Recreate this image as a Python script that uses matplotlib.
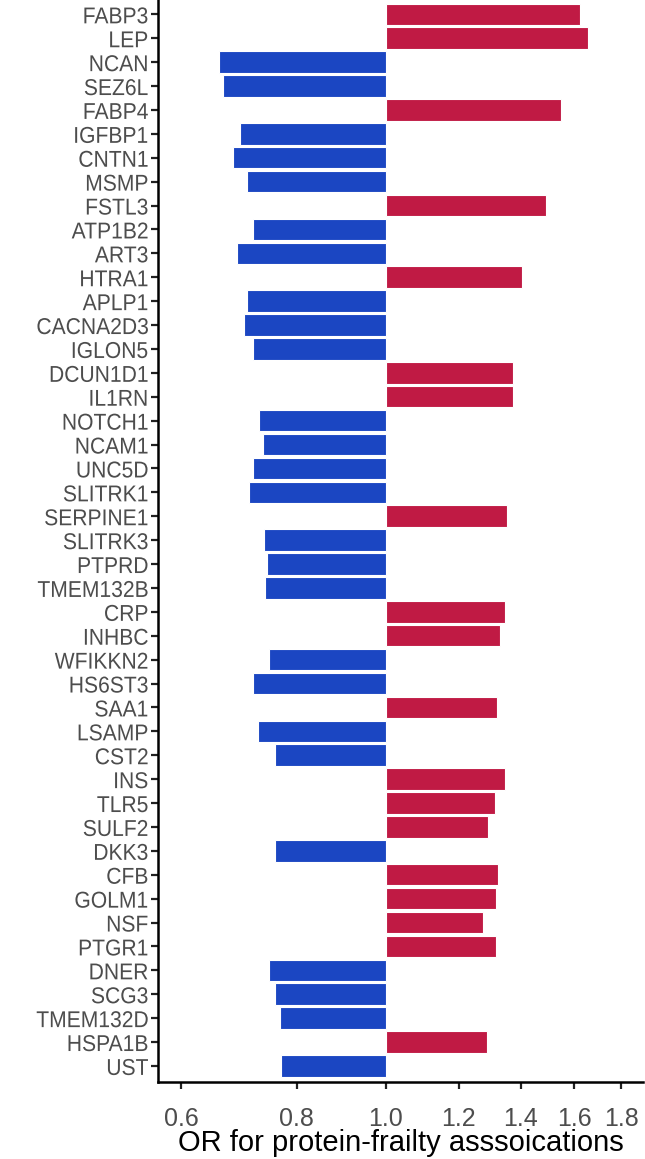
import numpy as np
import matplotlib.pyplot as plt
from matplotlib.ticker import FixedLocator, FixedFormatter, NullLocator
from matplotlib.patheffects import AbstractPathEffect
from matplotlib.transforms import Affine2D

# proteins, top to bottom
proteins = ['FABP3', 'LEP', 'NCAN', 'SEZ6L', 'FABP4', 'IGFBP1', 'CNTN1', 'MSMP',
            'FSTL3', 'ATP1B2', 'ART3', 'HTRA1', 'APLP1', 'CACNA2D3', 'IGLON5',
            'DCUN1D1', 'IL1RN', 'NOTCH1', 'NCAM1', 'UNC5D', 'SLITRK1', 'SERPINE1',
            'SLITRK3', 'PTPRD', 'TMEM132B', 'CRP', 'INHBC', 'WFIKKN2', 'HS6ST3',
            'SAA1', 'LSAMP', 'CST2', 'INS', 'TLR5', 'SULF2', 'DKK3', 'CFB', 'GOLM1',
            'NSF', 'PTGR1', 'DNER', 'SCG3', 'TMEM132D', 'HSPA1B', 'UST']
# odds ratios
odds = [1.622, 1.655, 0.659, 0.666, 1.547, 0.694, 0.683, 0.707,
        1.493, 0.717, 0.690, 1.404, 0.707, 0.702, 0.717,
        1.374, 1.374, 0.728, 0.735, 0.717, 0.711, 1.352,
        0.737, 0.743, 0.740, 1.347, 1.331, 0.746, 0.717,
        1.320, 0.727, 0.758, 1.347, 1.312, 1.292, 0.759, 1.322, 1.318,
        1.276, 1.315, 0.747, 0.758, 0.767, 1.286, 0.769]
xticks = [0.6, 0.8, 1.0, 1.2, 1.4, 1.6, 1.8]
xtick_labels = ['0.6', '0.8', '1.0', '1.2', '1.4', '1.6', '1.8']


class Squeeze(AbstractPathEffect):
    # narrows text horizontally, keeping its right edge in place
    def __init__(self, sx):
        super().__init__()
        self.sx = sx

    def draw_path(self, renderer, gc, tpath, affine, rgbFace=None):
        x1 = tpath.get_extents(affine).x1
        aff = affine + Affine2D().translate(-x1, 0).scale(self.sx, 1).translate(x1, 0)
        renderer.draw_path(gc, tpath, aff, rgbFace)


plt.rcParams['font.family'] = ['Liberation Sans', 'DejaVu Sans']

fig = plt.figure(figsize=(6.45, 11.59), dpi=100)
ax = fig.add_axes([0.245, 0.0667, 0.752, 0.9333])

odds = np.array(odds)
n = len(proteins)
y = np.arange(n)[::-1]
colors = np.where(odds > 1, '#C01A44', '#1B46C2')
ax.barh(y, odds - 1, left=1, height=0.9, color=colors,
        edgecolor='white', linewidth=0.8)

ax.set_xscale('log')
ax.set_xlim(0.566, 1.901)
ax.set_ylim(-0.66, n - 1 + 0.6)
ax.xaxis.set_major_locator(FixedLocator(xticks))
ax.xaxis.set_major_formatter(FixedFormatter(xtick_labels))
ax.xaxis.set_minor_locator(NullLocator())
ax.set_yticks(y)
ax.set_yticklabels(proteins)

ax.tick_params(axis='both', colors='#222222', width=1.6, length=5,
               labelcolor='#4D4D4D')
ax.tick_params(axis='x', pad=13, labelsize=18)
ax.tick_params(axis='y', pad=2, labelsize=16.5)
for lbl in ax.get_yticklabels():
    lbl.set_path_effects([Squeeze(0.92)])
for s in ['top', 'right']:
    ax.spines[s].set_visible(False)
for s in ['left', 'bottom']:
    ax.spines[s].set_linewidth(1.8)
    ax.spines[s].set_color('black')

ax.set_xlabel('OR for protein-frailty asssoications', fontsize=21, labelpad=-1)

fig.savefig('out.png', dpi=100)
